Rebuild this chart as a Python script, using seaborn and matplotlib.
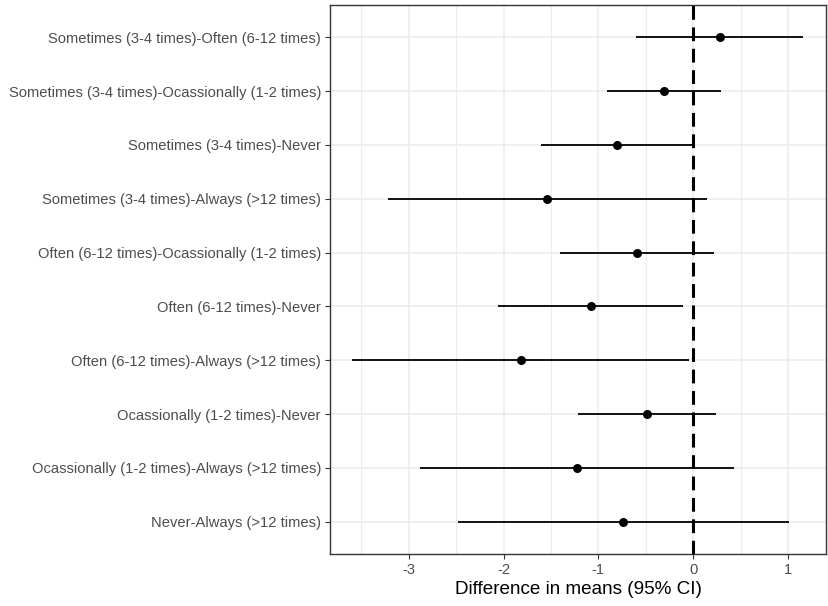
import numpy as np
import matplotlib
matplotlib.use("Agg")
import matplotlib.pyplot as plt
from matplotlib.ticker import MultipleLocator
import seaborn as sns

# pairwise comparisons, listed top to bottom
comparisons = [
    "Sometimes (3-4 times)-Often (6-12 times)",
    "Sometimes (3-4 times)-Ocassionally (1-2 times)",
    "Sometimes (3-4 times)-Never",
    "Sometimes (3-4 times)-Always (>12 times)",
    "Often (6-12 times)-Ocassionally (1-2 times)",
    "Often (6-12 times)-Never",
    "Often (6-12 times)-Always (>12 times)",
    "Ocassionally (1-2 times)-Never",
    "Ocassionally (1-2 times)-Always (>12 times)",
    "Never-Always (>12 times)",
]
diff = [0.28, -0.31, -0.80, -1.54, -0.59, -1.08, -1.82, -0.49, -1.23, -0.74]
lwr = [-0.60, -0.91, -1.61, -3.22, -1.40, -2.06, -3.60, -1.22, -2.88, -2.48]
upr = [1.16, 0.29, 0.01, 0.15, 0.22, -0.11, -0.04, 0.24, 0.43, 1.01]

sns.set_theme(style="white")
plt.rcParams['font.family'] = ['Liberation Sans', 'DejaVu Sans']

fig = plt.figure(figsize=(8.29, 6.06), dpi=100)
ax = fig.add_axes([330 / 829, 1 - 554 / 606, 496 / 829, 549 / 606])

ypos = np.arange(len(comparisons))

# grid like theme_bw
ax.xaxis.set_major_locator(MultipleLocator(1))
ax.xaxis.set_minor_locator(MultipleLocator(0.5))
ax.grid(which="major", color="#EBEBEB", lw=1.1)
ax.grid(which="minor", axis="x", color="#EBEBEB", lw=0.8)
ax.set_axisbelow(True)

ax.hlines(ypos, lwr, upr, color="black", lw=1.3, zorder=2)
sns.scatterplot(x=diff, y=ypos, color="black", s=42, edgecolor="black",
                linewidth=0, ax=ax, zorder=3)
ax.axvline(0, color="black", lw=2.2, linestyle=(0, (4.5, 2.5)), zorder=4)

ax.set_yticks(ypos)
ax.set_yticklabels(comparisons)
ax.set_ylim(len(comparisons) - 1 + 0.6, -0.6)
ax.set_xlim(-3.83, 1.40)
ax.set_xticks([-3, -2, -1, 0, 1])
ax.set_xticklabels(["-3", "-2", "-1", "0", "1"])

ax.tick_params(axis="both", which="major", length=3.5, width=0.8,
               color="#333333", labelcolor="#4D4D4D", labelsize=10.6, pad=3,
               left=True, bottom=True)
ax.tick_params(axis="x", which="minor", length=0)
for sp in ax.spines.values():
    sp.set_color("#333333")
    sp.set_linewidth(1.0)

ax.set_xlabel("Difference in means (95% CI)", fontsize=13.6, color="black",
              labelpad=3)
ax.set_ylabel("")

fig.savefig("out.png", dpi=100)
